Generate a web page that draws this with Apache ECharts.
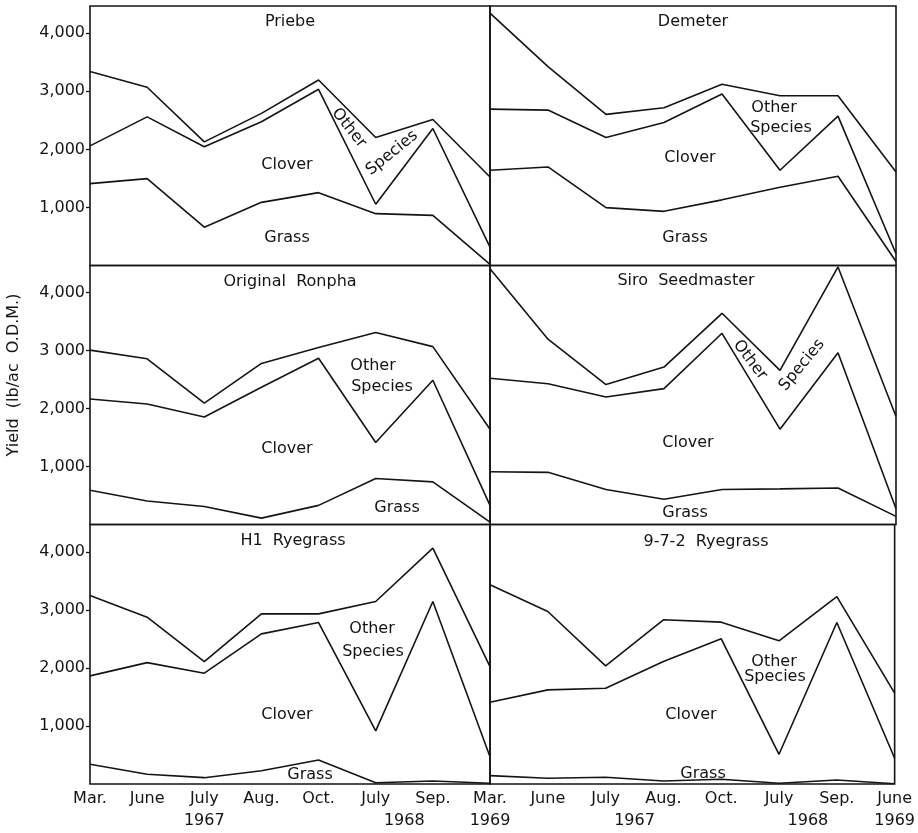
<!DOCTYPE html>
<html><head><meta charset="utf-8">
<script src="https://cdn.jsdelivr.net/npm/echarts@6/dist/echarts.min.js"></script>
<style>html,body{margin:0;padding:0;background:#fff}#c{width:918px;height:833px}</style>
</head><body><div id="c"></div>
<script>
// ---- categories ----
const catsLeft  = ["Mar.","June","July","Aug.","Oct.","July","Sep.","Mar."];
const catsRight = ["Mar.","June","July","Aug.","Oct.","July","Sep.","June"];
const yearsLeft  = [[2,"1967"],[5.5,"1968"]];
const yearsRight = [[0,"1969"],[2.5,"1967"],[5.5,"1968"],[7,"1969"]];
const yTicks = [1000,2000,3000,4000];

// ---- cumulative boundary lines (lb/ac O.D.M.) ----
const priebeGrass  = [1410,1497, 660,1088,1255, 893, 863,  20];
const priebeClover = [2060,2560,2045,2475,3035,1055,2360, 316];
const priebeTotal  = [3340,3070,2130,2620,3195,2205,2515,1525];

const demeterGrass  = [1641,1698, 997, 933,1131,1347,1537,  70];
const demeterClover = [2694,2677,2205,2464,2953,1641,2573, 202];
const demeterTotal  = [4347,3425,2603,2717,3121,2924,2924,1612];

const ronphaGrass  = [ 590, 405, 312, 110, 330, 795, 735,  40];
const ronphaClover = [2165,2080,1855,2370,2870,1415,2490, 330];
const ronphaTotal  = [3010,2860,2095,2780,3055,3315,3070,1645];

const siroGrass  = [ 910, 900, 605, 435, 605, 615, 630, 140];
const siroClover = [2525,2430,2200,2345,3300,1645,2965, 272];
const siroTotal  = [4415,3198,2415,2717,3645,2660,4445,1865];

const h1Grass  = [ 340, 167, 109, 229, 414,  22,  52,  12];
const h1Clover = [1862,2091,1909,2586,2781, 914,3143, 471];
const h1Total  = [3247,2874,2109,2931,2931,3143,4064,2022];

const rg972Grass  = [ 145, 100, 117,  52,  82,  12,  70,   5];
const rg972Clover = [1409,1621,1650,2109,2500, 512,2781, 443];
const rg972Total  = [3431,2971,2034,2828,2788,2466,3229,1564];

const panels = [
  {name:"Priebe",           grass:priebeGrass,  clover:priebeClover,  total:priebeTotal},
  {name:"Demeter",          grass:demeterGrass, clover:demeterClover, total:demeterTotal},
  {name:"Original  Ronpha", grass:ronphaGrass,  clover:ronphaClover,  total:ronphaTotal},
  {name:"Siro  Seedmaster", grass:siroGrass,    clover:siroClover,    total:siroTotal},
  {name:"H1  Ryegrass",     grass:h1Grass,      clover:h1Clover,      total:h1Total},
  {name:"9-7-2  Ryegrass",  grass:rg972Grass,   clover:rg972Clover,   total:rg972Total}
];

const FONT = "DejaVu Sans";
const INK = "#141414";
const rowsTop = [6, 265.5, 524.5];
const rowH = [259.5, 259, 259.5];

const grid = [], xAxis = [], yAxis = [], series = [];
panels.forEach((p, i) => {
  const col = i % 2, row = Math.floor(i / 2);
  grid.push({left: col ? 490 : 90, top: rowsTop[row], width: col ? 406 : 400, height: rowH[row],
    show: true, borderColor: INK, borderWidth: 1.6, backgroundColor: 'transparent'});
  const bottom = row === 2;
  xAxis.push({type:'category', gridIndex:i, boundaryGap:false, data: col ? catsRight : catsLeft,
    axisLine:{show:false}, axisTick:{show:false}, splitLine:{show:false},
    axisLabel:{show: bottom, interval:0, margin:7, color:INK, fontFamily:FONT, fontSize:16,
      formatter:(v, idx) => (!col && idx === 7) ? '' : v}});
  yAxis.push({type:'value', gridIndex:i, min:0, max:4470, interval:1000,
    axisLine:{show:false}, splitLine:{show:false},
    axisTick:{show: !col, customValues: yTicks, length:4, inside:false, lineStyle:{color:INK, width:1.3}},
    axisLabel:{show: !col, customValues: yTicks, margin:5, color:INK, fontFamily:FONT, fontSize:16,
      formatter: v => {
        if (v <= 0 || v % 1000 !== 0) return '';
        if (row === 1 && v === 3000) return '3 000';
        return (v/1000) + ',000';
      }}});
  [p.grass, p.clover, p.total].forEach(d => {
    series.push({type:'line', xAxisIndex:i, yAxisIndex:i, data:d, symbol:'none', silent:true,
      lineStyle:{color:INK, width:1.6}, z:3});
  });
});
// year rows under bottom panels
[[4, yearsLeft],[5, yearsRight]].forEach(([g, yrs]) => {
  xAxis.push({type:'value', gridIndex:g, min:0, max:7, interval:0.5, position:'bottom', offset:22,
    axisLine:{show:false}, axisTick:{show:false}, splitLine:{show:false},
    axisLabel:{show:true, margin:7, color:INK, fontFamily:FONT, fontSize:16, showMinLabel:true, showMaxLabel:true,
      formatter: v => { const f = yrs.find(y => Math.abs(y[0]-v) < 1e-6); return f ? f[1] : ''; }}});
});

function txt(x, y, s, rot) {
  return {type:'text', x:x, y:y, rotation: rot || 0,
    style:{text:s, fill:INK, font:'16px "' + FONT + '"', align:'center', verticalAlign:'middle'}};
}
const graphic = [
  txt(290, 22, panels[0].name), txt(693, 22, panels[1].name),
  txt(290, 282, panels[2].name), txt(686, 281, panels[3].name),
  txt(293, 541, panels[4].name), txt(706, 542, panels[5].name),
  // Priebe
  txt(287, 165, "Clover"), txt(287, 238, "Grass"),
  txt(349, 128, "Other", -0.9), txt(392, 153, "Species", 0.68),
  // Demeter
  txt(774, 108, "Other"), txt(781, 128, "Species"), txt(690, 158, "Clover"), txt(685, 238, "Grass"),
  // Ronpha
  txt(373, 366, "Other"), txt(382, 387, "Species"), txt(287, 449, "Clover"), txt(397, 508, "Grass"),
  // Siro
  txt(750, 360, "Other", -0.92), txt(802, 365, "Species", 0.88), txt(688, 443, "Clover"), txt(685, 513, "Grass"),
  // H1
  txt(372, 629, "Other"), txt(373, 652, "Species"), txt(287, 715, "Clover"), txt(310, 775, "Grass"),
  // 9-7-2
  txt(774, 662, "Other"), txt(775, 677, "Species"), txt(691, 715, "Clover"), txt(703, 774, "Grass"),
  // y-axis name
  txt(14, 375, "Yield  (lb/ac  O.D.M.)", Math.PI/2)
];

const chart = echarts.init(document.getElementById('c'), null, {renderer:'canvas'});
chart.setOption({animation:false, backgroundColor:'#fff', grid, xAxis, yAxis, series, graphic});
</script></body></html>
